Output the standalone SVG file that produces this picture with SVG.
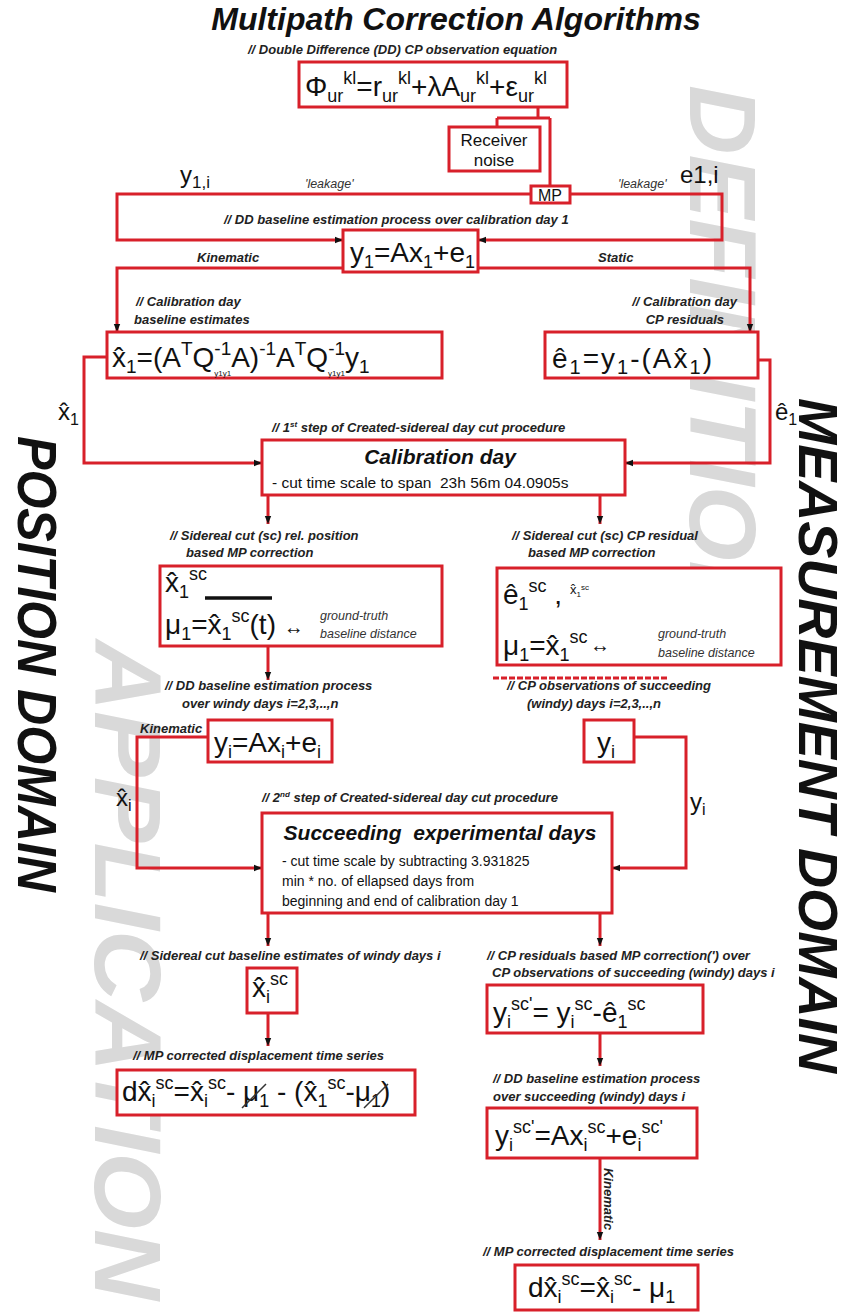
<svg xmlns="http://www.w3.org/2000/svg" width="841" height="1314" viewBox="0 0 841 1314">
<defs>
<style>
.box{fill:#fff;stroke:#d8202a;stroke-width:3}
.ln{fill:none;stroke:#d8202a;stroke-width:3}
.f{font-family:"Liberation Sans",Arial,sans-serif;font-size:28px;fill:#111}
.s{font-size:18px}
.t{font-size:8px}
.c{font-family:"Liberation Sans",Arial,sans-serif;font-size:13px;font-weight:bold;font-style:italic;fill:#222}
.i{font-family:"Liberation Sans",Arial,sans-serif;font-size:12.5px;font-style:italic;fill:#333}
.lab{font-family:"Liberation Sans",Arial,sans-serif;font-size:24px;fill:#111}
.wm{font-family:"Liberation Sans",Arial,sans-serif;font-size:95px;font-weight:bold;font-style:italic;fill:#d9d9d9}
.dom{font-family:"Liberation Sans",Arial,sans-serif;font-size:55px;font-weight:bold;font-style:italic;fill:#111}
</style>
<marker id="ah" viewBox="0 0 10 10" refX="10" refY="5" markerWidth="9" markerHeight="8" markerUnits="userSpaceOnUse" orient="auto"><path d="M0,1 L10,5 L0,9 z" fill="#111"/></marker>
</defs>
<rect width="841" height="1314" fill="#fff"/>
<g id="watermarks">
<text class="wm" transform="translate(690,85) rotate(90)" textLength="545" lengthAdjust="spacingAndGlyphs">DEFINITION</text>
<text class="wm" transform="translate(95,640) rotate(90)" textLength="660" lengthAdjust="spacingAndGlyphs">APPLICATION</text>
</g>
<g id="domains">
<text class="dom" transform="translate(18,436) rotate(90)" textLength="456" lengthAdjust="spacingAndGlyphs">POSITION DOMAIN</text>
<text class="dom" font-size="41" transform="translate(799,398) rotate(90)" textLength="675" lengthAdjust="spacingAndGlyphs">MEASUREMENT DOMAIN</text>
</g>
<g id="title">
<text x="456" y="30" text-anchor="middle" font-family="Liberation Sans, Arial, sans-serif" font-size="32" font-weight="bold" font-style="italic" fill="#111">Multipath Correction Algorithms</text>
<text class="c" x="248" y="54">// Double Difference (DD) CP observation equation</text>
</g>
<g id="connectors">
<path class="ln" d="M538,107 V118 M497,118 H550 M497,118 V127 M550,118 V187"/>
<path class="ln" d="M531,194 H117 V240 H343" marker-end="url(#ah)"/>
<path class="ln" d="M570,194 H722 V240 H478" marker-end="url(#ah)"/>
<path class="ln" d="M343,268 H117 V332" marker-end="url(#ah)"/>
<path class="ln" d="M478,268 H750 V332" marker-end="url(#ah)"/>
<path class="ln" d="M107,357 H84 V463 H262" marker-end="url(#ah)"/>
<path class="ln" d="M758,360 H770 V463 H625" marker-end="url(#ah)"/>
<path class="ln" d="M268,495 V524" marker-end="url(#ah)"/>
<path class="ln" d="M600,495 V524" marker-end="url(#ah)"/>
<path class="ln" d="M268,646 V680" marker-end="url(#ah)"/>
<path class="ln" d="M208,737 H137 V868 H262" marker-end="url(#ah)"/>
<path class="ln" d="M634,737 H686 V868 H612" marker-end="url(#ah)"/>
<path class="ln" d="M268,913 V946" marker-end="url(#ah)"/>
<path class="ln" d="M600,913 V946" marker-end="url(#ah)"/>
<path class="ln" d="M268,1013 V1046" marker-end="url(#ah)"/>
<path class="ln" d="M600,1033 V1066" marker-end="url(#ah)"/>
<path class="ln" d="M600,1158 V1240" marker-end="url(#ah)"/>
<path d="M493,678 H668" fill="none" stroke="#d8202a" stroke-width="3" stroke-dasharray="6,2"/>
<text class="c" x="197" y="262" font-size="12">Kinematic</text>
<text class="c" x="598" y="262" font-size="12">Static</text>
<text class="c" x="140" y="733" font-size="12">Kinematic</text>
<text class="c" transform="translate(604,1168) rotate(90)" font-size="12">Kinematic</text>
<text class="i" x="305" y="188" font-size="9">'leakage'</text>
<text class="i" x="618" y="188" font-size="9">'leakage'</text>
<text class="lab" x="180" y="183">y<tspan font-size="17" dy="5">1,i</tspan></text>
<text class="lab" x="680" y="183">e1,i</text>
<text class="lab" x="58" y="420">x̂<tspan font-size="16" dy="5">1</tspan></text>
<text class="lab" x="775" y="420">ê<tspan font-size="16" dy="5">1</tspan></text>
<text class="lab" x="116" y="806">x̂<tspan font-size="16" dy="5">i</tspan></text>
<text class="lab" x="690" y="810">y<tspan font-size="16" dy="5">i</tspan></text>
</g>
<g id="n-phi">
<rect class="box" x="299" y="62" width="268" height="45"/>
<text class="f" x="305" y="96">Φ<tspan class="s" dy="6">ur</tspan><tspan class="s" dy="-18">kl</tspan><tspan dy="12">=r</tspan><tspan class="s" dy="6">ur</tspan><tspan class="s" dy="-18">kl</tspan><tspan dy="12">+λA</tspan><tspan class="s" dy="6">ur</tspan><tspan class="s" dy="-18">kl</tspan><tspan dy="12">+ε</tspan><tspan class="s" dy="6">ur</tspan><tspan class="s" dy="-18">kl</tspan></text>
</g>
<g id="n-receiver">
<rect class="box" x="449" y="127" width="91" height="44"/>
<text x="494" y="146" text-anchor="middle" font-family="Liberation Sans, Arial, sans-serif" font-size="17" fill="#111">Receiver</text>
<text x="494" y="166" text-anchor="middle" font-family="Liberation Sans, Arial, sans-serif" font-size="17" fill="#111">noise</text>
</g>
<g id="n-mp">
<rect class="box" x="531" y="186" width="39" height="17"/>
<text x="550" y="201" text-anchor="middle" font-family="Liberation Sans, Arial, sans-serif" font-size="16" fill="#111">MP</text>
</g>
<g id="n-dd1">
<text class="c" x="224" y="224">// DD baseline estimation process over calibration day 1</text>
</g>
<g id="n-y1">
<rect class="box" x="343" y="230" width="135" height="42"/>
<text class="f" x="350" y="262">y<tspan class="s" dy="6">1</tspan><tspan dy="-6">=Ax</tspan><tspan class="s" dy="6">1</tspan><tspan dy="-6">+e</tspan><tspan class="s" dy="6">1</tspan></text>
</g>
<g id="n-x1hat">
<text class="c" x="136" y="306">// Calibration day</text>
<text class="c" x="134" y="324">baseline estimates</text>
<rect class="box" x="107" y="332" width="335" height="46"/>
<text class="f" font-size="30" x="112" y="367">x̂<tspan font-size="19" dy="6">1</tspan><tspan dy="-6">=(A</tspan><tspan font-size="19" dy="-12">T</tspan><tspan dy="12">Q</tspan><tspan font-size="19" dy="-12">-1</tspan><tspan class="t" dx="-17" dy="21">y1y1</tspan><tspan dy="-9">A)</tspan><tspan font-size="19" dy="-12">-1</tspan><tspan dy="12">A</tspan><tspan font-size="19" dy="-12">T</tspan><tspan dy="12">Q</tspan><tspan font-size="19" dy="-12">-1</tspan><tspan class="t" dx="-17" dy="21">y1y1</tspan><tspan dy="-9">y</tspan><tspan font-size="19" dy="6">1</tspan></text>
</g>
<g id="n-e1hat">
<text class="c" x="737" y="306" text-anchor="end">// Calibration day</text>
<text class="c" x="724" y="324" text-anchor="end">CP residuals</text>
<rect class="box" x="545" y="332" width="213" height="46"/>
<text class="f" font-size="32" letter-spacing="2" x="552" y="368">ê<tspan font-size="20" dy="6">1</tspan><tspan dy="-6">=y</tspan><tspan font-size="20" dy="6">1</tspan><tspan dy="-6">-(Ax̂</tspan><tspan font-size="20" dy="6">1</tspan><tspan dy="-6">)</tspan></text>
</g>
<g id="n-calib">
<text class="c" x="272" y="432">// 1<tspan font-size="8" dy="-5">st</tspan><tspan dy="5"> step of Created-sidereal day cut procedure</tspan></text>
<rect class="box" x="262" y="440" width="363" height="55"/>
<text x="440" y="464" text-anchor="middle" font-family="Liberation Sans, Arial, sans-serif" font-size="21" font-weight="bold" font-style="italic" fill="#111">Calibration day</text>
<text xml:space="preserve" x="272" y="488" font-family="Liberation Sans, Arial, sans-serif" font-size="15.5" fill="#111">- cut time scale to span  23h 56m 04.0905s</text>
</g>
<g id="n-sc-left">
<text class="c" x="170" y="540">// Sidereal cut (sc) rel. position</text>
<text class="c" x="186" y="557">based MP correction</text>
<rect class="box" x="160" y="566" width="282" height="80"/>
<text class="f" x="165" y="592">x̂<tspan class="s" dy="6">1</tspan><tspan class="s" dy="-18">sc</tspan></text>
<line x1="205" y1="598" x2="272" y2="598" stroke="#111" stroke-width="3.5"/>
<text class="f" x="165" y="634">μ<tspan class="s" dy="6">1</tspan><tspan dy="-6">=x̂</tspan><tspan class="s" dy="6">1</tspan><tspan class="s" dy="-18">sc</tspan><tspan dy="12">(t) </tspan><tspan font-size="20">↔</tspan></text>
<text class="i" x="320" y="620">ground-truth</text>
<text class="i" x="320" y="638">baseline distance</text>
</g>
<g id="n-sc-right">
<text class="c" x="512" y="540">// Sidereal cut (sc) CP residual</text>
<text class="c" x="528" y="557">based MP correction</text>
<rect class="box" x="497" y="568" width="284" height="97"/>
<text class="f" x="503" y="604">ê<tspan class="s" dy="6">1</tspan><tspan class="s" dy="-18">sc</tspan><tspan dy="12"> , </tspan><tspan font-size="13" dy="-10">x̂</tspan><tspan font-size="8" dy="3">1</tspan><tspan font-size="8" dy="-7">sc</tspan></text>
<text class="f" x="503" y="655">μ<tspan class="s" dy="6">1</tspan><tspan dy="-6">=x̂</tspan><tspan class="s" dy="6">1</tspan><tspan class="s" dy="-18">sc</tspan></text>
<text x="590" y="652" font-family="Liberation Sans, Arial, sans-serif" font-size="20" fill="#111">↔</text>
<text class="i" x="658" y="638">ground-truth</text>
<text class="i" x="658" y="657">baseline distance</text>
</g>
<g id="n-yi-eq">
<text class="c" x="165" y="690">// DD baseline estimation process</text>
<text class="c" x="182" y="708">over windy days i=2,3,..,n</text>
<rect class="box" x="208" y="720" width="124" height="42"/>
<text class="f" x="214" y="752">y<tspan class="s" dy="6">i</tspan><tspan dy="-6">=Ax</tspan><tspan class="s" dy="6">i</tspan><tspan dy="-6">+e</tspan><tspan class="s" dy="6">i</tspan></text>
</g>
<g id="n-yi">
<text class="c" x="507" y="690">// CP observations of succeeding</text>
<text class="c" x="527" y="708">(windy) days i=2,3,..,n</text>
<rect class="box" x="584" y="720" width="50" height="42"/>
<text class="f" x="597" y="752">y<tspan class="s" dy="6">i</tspan></text>
</g>
<g id="n-succ">
<text class="c" x="262" y="802">// 2<tspan font-size="8" dy="-5">nd</tspan><tspan dy="5"> step of Created-sidereal day cut procedure</tspan></text>
<rect class="box" x="262" y="813" width="350" height="100"/>
<text xml:space="preserve" x="440" y="840" text-anchor="middle" font-family="Liberation Sans, Arial, sans-serif" font-size="21" font-weight="bold" font-style="italic" fill="#111">Succeeding  experimental days</text>
<text x="282" y="866" font-family="Liberation Sans, Arial, sans-serif" font-size="14" fill="#111">- cut time scale by subtracting 3.931825</text>
<text x="282" y="886" font-family="Liberation Sans, Arial, sans-serif" font-size="14" fill="#111">min * no. of ellapsed days from</text>
<text x="282" y="906" font-family="Liberation Sans, Arial, sans-serif" font-size="14" fill="#111">beginning and end of calibration day 1</text>
</g>
<g id="n-xisc">
<text class="c" x="140" y="960">// Sidereal cut baseline estimates of windy days i</text>
<rect class="box" x="247" y="968" width="50" height="45"/>
<text class="f" x="252" y="997">x̂<tspan class="s" dy="6">i</tspan><tspan class="s" dy="-18">sc</tspan></text>
</g>
<g id="n-dx-left">
<text class="c" x="133" y="1060">// MP corrected displacement time series</text>
<rect class="box" x="117" y="1070" width="298" height="45"/>
<text class="f" x="122" y="1101">dx̂<tspan class="s" dy="6">i</tspan><tspan class="s" dy="-18">sc</tspan><tspan dy="12">=x̂</tspan><tspan class="s" dy="6">i</tspan><tspan class="s" dy="-18">sc</tspan><tspan dy="12">- μ</tspan><tspan class="s" dy="6">1</tspan><tspan dy="-6"> - (x̂</tspan><tspan class="s" dy="6">1</tspan><tspan class="s" dy="-18">sc</tspan><tspan dy="12">-μ</tspan><tspan class="s" dy="6">1</tspan><tspan dy="-6">)</tspan></text>
<path d="M242,1108 L266,1084 M364,1108 L388,1084" stroke="#333" stroke-width="1.5" fill="none"/>
</g>
<g id="n-yisc-corr">
<text class="c" x="487" y="960">// CP residuals based MP correction(') over</text>
<text class="c" x="492" y="977">CP observations of succeeding (windy) days i</text>
<rect class="box" x="487" y="985" width="216" height="48"/>
<text class="f" x="493" y="1022">y<tspan class="s" dy="6">i</tspan><tspan class="s" dy="-18">sc'</tspan><tspan dy="12">= y</tspan><tspan class="s" dy="6">i</tspan><tspan class="s" dy="-18">sc</tspan><tspan dy="12">-ê</tspan><tspan class="s" dy="6">1</tspan><tspan class="s" dy="-18">sc</tspan></text>
</g>
<g id="n-yisc-eq">
<text class="c" x="493" y="1083">// DD baseline estimation process</text>
<text class="c" x="493" y="1101">over succeeding (windy) days i</text>
<rect class="box" x="487" y="1108" width="210" height="50"/>
<text class="f" x="495" y="1145">y<tspan class="s" dy="6">i</tspan><tspan class="s" dy="-18">sc'</tspan><tspan dy="12">=Ax</tspan><tspan class="s" dy="6">i</tspan><tspan class="s" dy="-18">sc</tspan><tspan dy="12">+e</tspan><tspan class="s" dy="6">i</tspan><tspan class="s" dy="-18">sc'</tspan></text>
</g>
<g id="n-dx-right">
<text class="c" x="483" y="1256">// MP corrected displacement time series</text>
<rect class="box" x="515" y="1265" width="183" height="45"/>
<text class="f" x="528" y="1297">dx̂<tspan class="s" dy="6">i</tspan><tspan class="s" dy="-18">sc</tspan><tspan dy="12">=x̂</tspan><tspan class="s" dy="6">i</tspan><tspan class="s" dy="-18">sc</tspan><tspan dy="12">- μ</tspan><tspan class="s" dy="6">1</tspan></text>
</g>
</svg>
